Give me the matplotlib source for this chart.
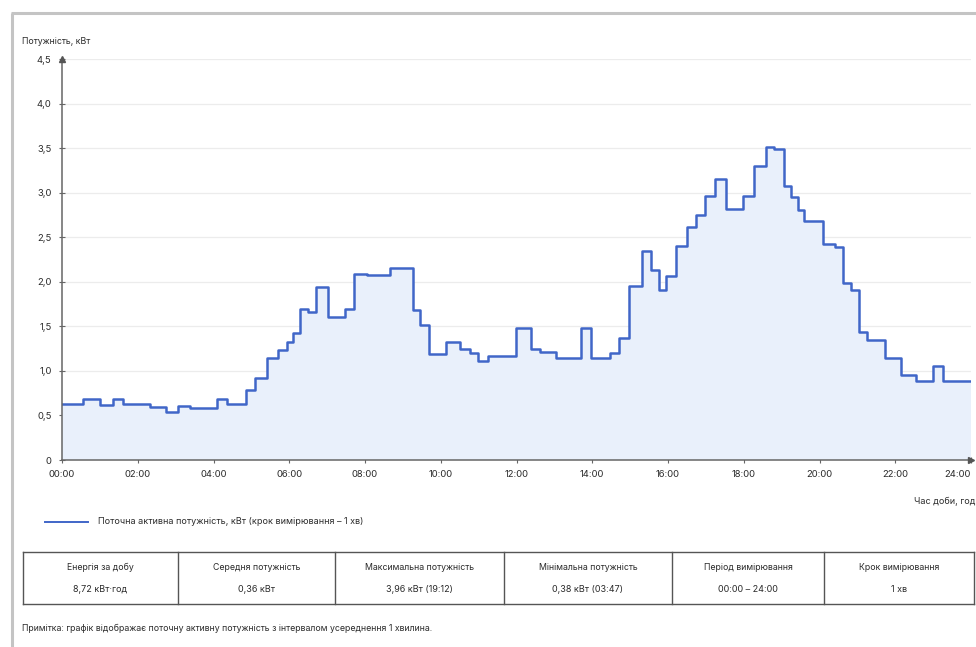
import numpy as np
import matplotlib
matplotlib.use("Agg")
import matplotlib.pyplot as plt
from matplotlib.ticker import FuncFormatter, MultipleLocator

plt.rcParams['font.family'] = ['Inter', 'DejaVu Sans']

# початок кожного кроку (год) і потужність на ньому (кВт)
step_start_h = [0, 0.56, 1.0, 1.34, 1.62, 2.32, 2.74, 3.07, 3.38, 4.08,
                4.35, 4.87, 5.09, 5.40, 5.71, 5.93, 6.10, 6.28, 6.50, 6.70,
                7.03, 7.47, 7.70, 8.04, 8.65, 9.27, 9.46, 9.69, 10.13, 10.50,
                10.77, 10.98, 11.25, 11.98, 12.39, 12.61, 13.03, 13.71, 13.98, 14.46,
                14.71, 14.96, 15.32, 15.56, 15.75, 15.95, 16.22, 16.50, 16.75, 16.99,
                17.23, 17.54, 17.98, 18.26, 18.58, 18.81, 19.05, 19.25, 19.43, 19.60,
                20.09, 20.40, 20.63, 20.84, 21.04, 21.25, 21.72, 22.15, 22.55, 22.99,
                23.27]
power_kw = [0.63, 0.68, 0.62, 0.68, 0.63, 0.60, 0.54, 0.61, 0.58, 0.68,
            0.63, 0.78, 0.92, 1.15, 1.23, 1.32, 1.43, 1.70, 1.66, 1.94,
            1.60, 1.70, 2.09, 2.08, 2.16, 1.68, 1.51, 1.19, 1.32, 1.25,
            1.20, 1.11, 1.17, 1.48, 1.25, 1.21, 1.15, 1.48, 1.15, 1.20,
            1.37, 1.95, 2.35, 2.13, 1.91, 2.07, 2.40, 2.62, 2.75, 2.96,
            3.15, 2.82, 2.96, 3.30, 3.51, 3.49, 3.08, 2.95, 2.81, 2.68,
            2.42, 2.39, 1.99, 1.91, 1.44, 1.35, 1.15, 0.95, 0.89, 1.06,
            0.89]

x_ticks_h = list(range(0, 25, 2))
x_tick_labels = ["%02d:00" % h for h in x_ticks_h]

table_headers = ["Енергія за добу", "Середня потужність", "Максимальна потужність",
                 "Мінімальна потужність", "Період вимірювання", "Крок вимірювання"]
table_values = ["8,72 кВт·год", "0,36 кВт", "3,96 кВт (19:12)",
                "0,38 кВт (03:47)", "00:00 – 24:00", "1 хв"]

line_color = "#4066c8"
fill_color = "#e9f0fb"
text_color = "#2b2b2b"
W, H = 976, 647

fig = plt.figure(figsize=(W / 100, H / 100), dpi=100)

# фон з рамкою, таблицею та підписами (координати в пікселях)
bg = fig.add_axes([0, 0, 1, 1], zorder=0)
bg.set_xlim(0, W)
bg.set_ylim(H, 0)
bg.axis("off")
bg.plot([11, W], [13, 13], color="#c4c4c4", lw=2.2, solid_capstyle="butt")
bg.plot([12, 12], [13, H], color="#c4c4c4", lw=2.2, solid_capstyle="butt")

bg.text(22, 41, "Потужність, кВт", fontsize=6.3, color=text_color, va="center")
bg.text(975, 501, "Час доби, год", fontsize=6.5, color=text_color, va="center", ha="right")

bg.plot([45, 88], [522, 522], color=line_color, lw=1.4)
bg.text(98, 522, "Поточна активна потужність, кВт (крок вимірювання – 1 хв)",
        fontsize=6.5, color=text_color, va="center")

col_edges = [23, 178, 335, 504, 672, 824, 974]
tb_top, tb_bot = 552, 604
bg.plot([col_edges[0], col_edges[-1]], [tb_top, tb_top], color="#555555", lw=1)
bg.plot([col_edges[0], col_edges[-1]], [tb_bot, tb_bot], color="#555555", lw=1)
for xe in col_edges:
    bg.plot([xe, xe], [tb_top, tb_bot], color="#555555", lw=1)
for i, (hd, vl) in enumerate(zip(table_headers, table_values)):
    xc = (col_edges[i] + col_edges[i + 1]) / 2
    bg.text(xc, 567, hd, fontsize=6.3, color=text_color, ha="center", va="center")
    bg.text(xc, 590, vl, fontsize=6.5, color=text_color, ha="center", va="center")

bg.text(22, 628, "Примітка: графік відображає поточну активну потужність з інтервалом усереднення 1 хвилина.",
        fontsize=6.3, color=text_color, va="center")

# графік
x0, x1 = 62, 971
y0, y1 = 460, 59
ax = fig.add_axes([x0 / W, 1 - y0 / H, (x1 - x0) / W, (y0 - y1) / H], zorder=1)
ax.patch.set_alpha(0)

xs = step_start_h + [24]
ys = power_kw + [power_kw[-1]]
ax.fill_between(xs, ys, step="post", color=fill_color, lw=0)
ax.step(xs, ys, where="post", color=line_color, lw=1.8)

ax.set_xlim(0, 24)
ax.set_ylim(0, 4.5)
ax.yaxis.set_major_locator(MultipleLocator(0.5))
ax.yaxis.set_major_formatter(FuncFormatter(lambda v, p: "0" if v == 0 else ("%.1f" % v).replace(".", ",")))
ax.set_xticks(x_ticks_h)
ax.set_xticklabels(x_tick_labels)
ax.get_xticklabels()[-1].set_ha("right")
ax.grid(axis="y", color="#ececec", lw=0.9)
ax.set_axisbelow(True)

for s in ["top", "right"]:
    ax.spines[s].set_visible(False)
for s in ["left", "bottom"]:
    ax.spines[s].set_color("#666666")
    ax.spines[s].set_linewidth(1.1)
    ax.spines[s].set_zorder(3)
ax.tick_params(direction="inout", length=5, width=0.8, color="#666666",
               labelsize=6.8, labelcolor=text_color)
ax.tick_params(axis="x", pad=5)
ax.tick_params(axis="y", pad=5)
ax.plot(1, 0, ">", color="#555555", ms=4, transform=ax.transAxes, clip_on=False, zorder=4)
ax.plot(0, 1, "^", color="#555555", ms=4, transform=ax.transAxes, clip_on=False, zorder=4)

fig.savefig("out.png", dpi=100)
